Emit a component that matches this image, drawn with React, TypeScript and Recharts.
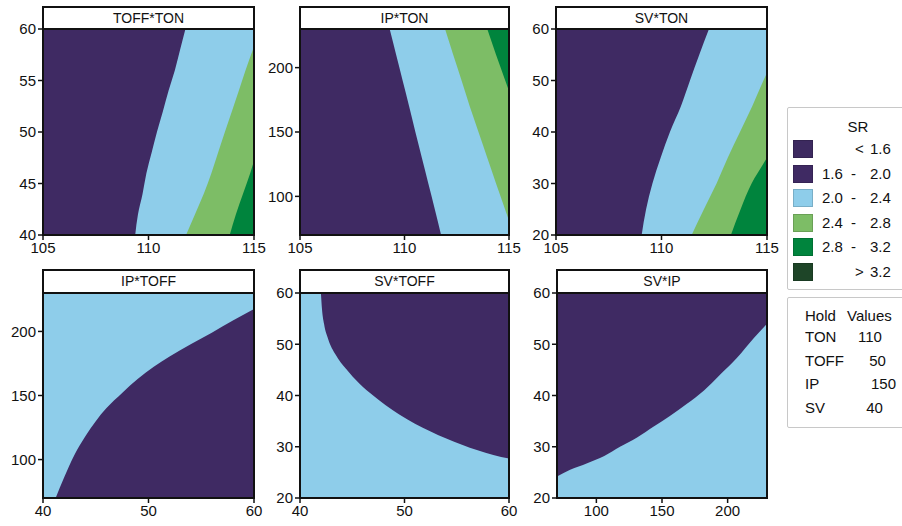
import React from 'react';
import { ComposedChart, Area, XAxis, YAxis, CartesianGrid } from 'recharts';

const FONT = '"Liberation Sans", Arial, Helvetica, sans-serif';
const INK = '#111111';

// SR class colours
const srColors = ['#3d2a60', '#3f2a63', '#8ecdea', '#7dbd66', '#00843d', '#1e4528'];
const srLeft = ['', '1.6', '2.0', '2.4', '2.8', ''];
const srMid = ['<', '-', '-', '-', '-', '>'];
const srRight = ['1.6', '2.0', '2.4', '2.8', '3.2', '3.2'];

const PURPLE = srColors[1];
const BLUE = srColors[2];
const LGREEN = srColors[3];
const GREEN = srColors[4];

// Hold values
const holdFactors = ['TON', 'TOFF', 'IP', 'SV'];
const holdValues = [110, 50, 150, 40];

// Panel 1: TOFF*TON (boundaries: TON at given TOFF)
const p1Toff = [40, 42, 44, 46, 48, 50, 52, 54, 56, 58, 60];
const p1B20 = [109.37, 109.5, 109.72, 109.9, 110.15, 110.4, 110.68, 110.95, 111.25, 111.5, 111.75];
const p1B24 = [111.78, 112.2, 112.62, 112.98, 113.3, 113.62, 113.95, 114.28, 114.6, 114.95, 115.3];
const p1B28 = [113.85, 114.14, 114.48, 114.82, 115.12, 115.45, 115.8, 116.1, 116.4, 116.7, 117.0];

// Panel 2: IP*TON
const p2Ip = [70, 90, 110, 130, 150, 170, 190, 210, 230];
const p2B20 = [111.75, 111.45, 111.14, 110.83, 110.52, 110.22, 109.91, 109.6, 109.29];
const p2B24 = [115.24, 114.81, 114.38, 113.96, 113.54, 113.12, 112.73, 112.33, 111.94];
const p2B28 = [117.46, 117.02, 116.58, 116.15, 115.7, 115.26, 114.82, 114.38, 113.96];

// Panel 3: SV*TON
const p3Sv = [20, 25, 30, 35, 40, 45, 50, 55, 60];
const p3B20 = [109.06, 109.27, 109.57, 109.96, 110.4, 110.92, 111.35, 111.79, 112.25];
const p3B24 = [111.43, 112.01, 112.61, 113.14, 113.72, 114.3, 114.83, 115.4, 116.0];
const p3B28 = [113.29, 113.75, 114.27, 115.0, 115.7, 116.4, 117.0, 117.6, 118.2];

// Panel 4: IP*TOFF (boundary: IP at given TOFF)
const p4Toff = [40, 41.2, 42, 43, 44, 45, 46, 47.5, 49, 50.5, 52, 54, 56, 58, 60];
const p4B20 = [45, 70, 86, 104, 118, 130, 140, 152, 163, 172.5, 180.5, 190, 199, 208.5, 217.5];

// Panel 5: SV*TOFF (boundary: SV at given TOFF)
const p5Toff = [40, 42, 42.1, 42.3, 42.7, 43.4, 44.4, 45.7, 47, 48.2, 49.5, 51, 52.5, 54, 55.5, 57, 58.5, 60];
const p5B20 = [120, 60, 57, 54, 51, 48, 45.2, 42.3, 40.0, 38.1, 36.3, 34.5, 33.0, 31.6, 30.4, 29.3, 28.4, 27.7];

// Panel 6: SV*IP (boundary: SV at given IP)
const p6Ip = [70, 80, 93, 106, 118, 131, 144, 156, 169, 182, 194, 207, 220, 230];
const p6B20 = [24.2, 25.5, 26.8, 28.2, 30.0, 31.8, 34.0, 36.0, 38.4, 41.0, 44.0, 47.3, 51.2, 54.0];

// tick labels
const tonTicks = [105, 110, 115];
const toffTicks = [40, 45, 50, 55, 60];
const toffXTicks = [40, 50, 60];
const ipTicks = [100, 150, 200];
const svTicks = [20, 30, 40, 50, 60];

const rows3 = (cat: number[], key: string, a: number[], b: number[], c: number[]) =>
  cat.map((v, i) => ({ [key]: v, b20: a[i], b24: b[i], b28: c[i] }));
const rows1 = (cat: number[], key: string, a: number[]) => cat.map((v, i) => ({ [key]: v, b20: a[i] }));

type Band = { key: string; color: string };

type PanelProps = {
  title: string;
  left: number;
  top: number;
  w: number;
  h: number;
  headerTop: number;
  data: any[];
  vertical: boolean;
  catKey: string;
  xDomain: [number, number];
  xTicks: number[];
  yDomain: [number, number];
  yTicks: number[];
  bands: Band[];
  bg: string;
};

const tickStyle = { fill: INK, fontSize: 15, fontFamily: FONT };
const tickLine = { stroke: INK, strokeWidth: 1.5 };

function Panel(p: PanelProps) {
  const base = p.vertical ? p.xDomain[0] : p.yDomain[0];
  return (
    <>
      <div style={{ position: 'absolute', left: p.left - 50, top: p.top - 10 }}>
        <ComposedChart
          width={p.w + 70}
          height={p.h + 50}
          data={p.data}
          layout={p.vertical ? 'vertical' : 'horizontal'}
          margin={{ top: 10, right: 20, bottom: 10, left: 0 }}
        >
          <CartesianGrid horizontal={false} vertical={false} fill={p.bg} stroke="none" />
          <XAxis
            type="number"
            dataKey={p.vertical ? undefined : p.catKey}
            domain={p.xDomain}
            ticks={p.xTicks}
            allowDataOverflow
            interval={0}
            height={30}
            tickSize={5}
            tickMargin={2}
            axisLine={false}
            tickLine={tickLine}
            tick={tickStyle}
          />
          <YAxis
            type="number"
            dataKey={p.vertical ? p.catKey : undefined}
            domain={p.yDomain}
            ticks={p.yTicks}
            reversed={p.vertical}
            allowDataOverflow
            interval={0}
            width={50}
            tickSize={5}
            tickMargin={2}
            axisLine={false}
            tickLine={tickLine}
            tick={tickStyle}
          />
          {p.bands.map((b) => (
            <Area
              key={b.key}
              dataKey={b.key}
              type="monotone"
              fill={b.color}
              fillOpacity={1}
              stroke="none"
              baseValue={base}
              dot={false}
              activeDot={false}
              isAnimationActive={false}
            />
          ))}
        </ComposedChart>
      </div>
      <div
        style={{
          position: 'absolute',
          left: p.left - 1,
          top: p.headerTop - 1,
          width: p.w + 2,
          height: p.top - p.headerTop + p.h + 2,
          border: `2px solid ${INK}`,
          boxSizing: 'border-box',
          pointerEvents: 'none',
        }}
      >
        <div
          style={{
            height: p.top - p.headerTop,
            borderBottom: `2px solid ${INK}`,
            boxSizing: 'border-box',
            background: '#fff',
            textAlign: 'center',
            fontFamily: FONT,
            fontSize: 14,
            color: INK,
            lineHeight: `${p.top - p.headerTop - 2}px`,
          }}
        >
          {p.title}
        </div>
      </div>
    </>
  );
}

const topBands: Band[] = [
  { key: 'b28', color: LGREEN },
  { key: 'b24', color: BLUE },
  { key: 'b20', color: PURPLE },
];

export default function App() {
  return (
    <div style={{ position: 'absolute', left: 0, top: 0, width: 902, height: 526, background: '#fff', overflow: 'hidden' }}>
      <Panel title="TOFF*TON" left={43} top={29} w={211} h={206} headerTop={7}
        data={rows3(p1Toff, 'toff', p1B20, p1B24, p1B28)} vertical catKey="toff"
        xDomain={[105, 115]} xTicks={tonTicks} yDomain={[40, 60]} yTicks={toffTicks}
        bands={topBands} bg={GREEN} />
      <Panel title="IP*TON" left={300} top={29} w={209} h={206} headerTop={7}
        data={rows3(p2Ip, 'ip', p2B20, p2B24, p2B28)} vertical catKey="ip"
        xDomain={[105, 115]} xTicks={tonTicks} yDomain={[70, 230]} yTicks={ipTicks}
        bands={topBands} bg={GREEN} />
      <Panel title="SV*TON" left={556} top={29} w={211} h={206} headerTop={7}
        data={rows3(p3Sv, 'sv', p3B20, p3B24, p3B28)} vertical catKey="sv"
        xDomain={[105, 115]} xTicks={tonTicks} yDomain={[20, 60]} yTicks={svTicks}
        bands={topBands} bg={GREEN} />
      <Panel title="IP*TOFF" left={43} top={293} w={211} h={205} headerTop={270}
        data={rows1(p4Toff, 'toff', p4B20)} vertical={false} catKey="toff"
        xDomain={[40, 60]} xTicks={toffXTicks} yDomain={[70, 230]} yTicks={ipTicks}
        bands={[{ key: 'b20', color: PURPLE }]} bg={BLUE} />
      <Panel title="SV*TOFF" left={300} top={293} w={209} h={205} headerTop={270}
        data={rows1(p5Toff, 'toff', p5B20)} vertical={false} catKey="toff"
        xDomain={[40, 60]} xTicks={toffXTicks} yDomain={[20, 60]} yTicks={svTicks}
        bands={[{ key: 'b20', color: BLUE }]} bg={PURPLE} />
      <Panel title="SV*IP" left={557} top={293} w={210} h={205} headerTop={270}
        data={rows1(p6Ip, 'ip', p6B20)} vertical={false} catKey="ip"
        xDomain={[70, 230]} xTicks={ipTicks} yDomain={[20, 60]} yTicks={svTicks}
        bands={[{ key: 'b20', color: BLUE }]} bg={PURPLE} />

      {/* SR legend */}
      <div style={{ position: 'absolute', left: 787, top: 107, width: 130, height: 183, border: '1px solid #c8c8c8', boxSizing: 'border-box', borderRadius: 2 }} />
      <div style={{ position: 'absolute', left: 840, top: 118, width: 36, textAlign: 'center', fontFamily: FONT, fontSize: 15, color: INK, lineHeight: '18px' }}>SR</div>
      {srColors.map((c, i) => {
        const cy = 149 + i * 24.6;
        return (
          <React.Fragment key={i}>
            <div style={{ position: 'absolute', left: 793, top: cy - 9, width: 20, height: 18, background: c, border: '1px solid rgba(0,0,0,0.15)', boxSizing: 'border-box' }} />
            <div style={{ position: 'absolute', left: 822, top: cy - 9, fontFamily: FONT, fontSize: 15, color: INK, lineHeight: '18px' }}>{srLeft[i]}</div>
            <div style={{ position: 'absolute', left: srMid[i] === '-' ? 851 : 855, top: cy - 9, fontFamily: FONT, fontSize: 15, color: INK, lineHeight: '18px' }}>{srMid[i]}</div>
            <div style={{ position: 'absolute', left: 870, top: cy - 9, fontFamily: FONT, fontSize: 15, color: INK, lineHeight: '18px' }}>{srRight[i]}</div>
          </React.Fragment>
        );
      })}

      {/* Hold values */}
      <div style={{ position: 'absolute', left: 787, top: 297, width: 130, height: 131, border: '1px solid #c8c8c8', boxSizing: 'border-box', borderRadius: 2 }} />
      <div style={{ position: 'absolute', left: 805, top: 307, fontFamily: FONT, fontSize: 15, color: INK, lineHeight: '18px' }}>Hold</div>
      <div style={{ position: 'absolute', left: 847, top: 307, fontFamily: FONT, fontSize: 15, color: INK, lineHeight: '18px' }}>Values</div>
      {holdFactors.map((f, i) => {
        const cy = 337 + i * 23.7;
        const vx = [870, 877.5, 883.5, 874.5][i];
        return (
          <React.Fragment key={f}>
            <div style={{ position: 'absolute', left: 805, top: cy - 9, fontFamily: FONT, fontSize: 15, color: INK, lineHeight: '18px' }}>{f}</div>
            <div style={{ position: 'absolute', left: vx - 20, width: 40, textAlign: 'center', top: cy - 9, fontFamily: FONT, fontSize: 15, color: INK, lineHeight: '18px' }}>{holdValues[i]}</div>
          </React.Fragment>
        );
      })}
    </div>
  );
}
